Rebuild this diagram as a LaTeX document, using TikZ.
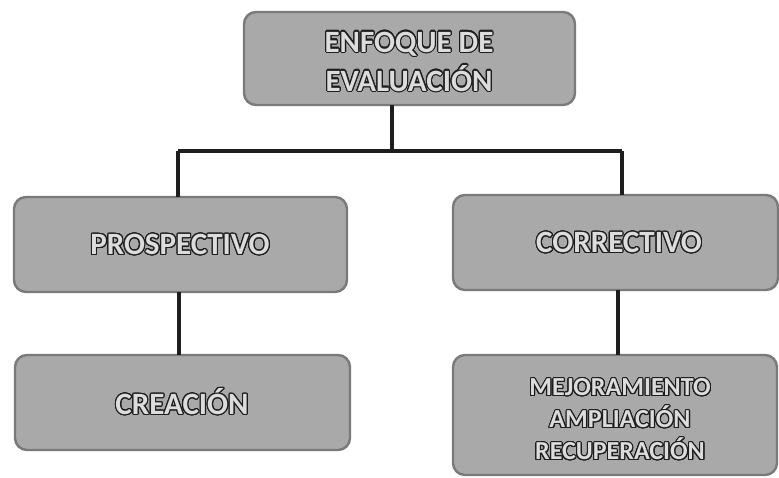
\documentclass[tikz,border=0pt]{standalone}
\usepackage{fontspec}
\setmainfont{Carlito}[BoldFont={Carlito Bold}]
\usepackage{contour}
\contourlength{1.1pt}
\contournumber{24}
\definecolor{boxfill}{HTML}{A9A9A9}
\definecolor{boxedge}{HTML}{7A7A7A}
\definecolor{wire}{HTML}{1E1E1E}
\definecolor{letterfill}{HTML}{DCDCDC}
% outlined letters: dark contour round a light fill
\newcommand{\hollow}[1]{\contour{wire}{\textcolor{letterfill}{#1}}}
\begin{document}
\begin{tikzpicture}[x=1pt,y=-1pt,
  panel/.style={draw=boxedge, line width=2.4pt, fill=boxfill, rounded corners=12pt},
  label/.style={font=\fontsize{31}{38}\selectfont\bfseries, align=center},
  small/.style={font=\fontsize{26}{32}\selectfont\bfseries, align=center},
  link/.style={draw=wire, line width=3.2pt}]
\useasboundingbox (0,0) rectangle (779,477);

% boxes
\draw[panel] (244,12) rectangle (575,105);
\draw[panel] (14,197) rectangle (347,292);
\draw[panel] (453,195) rectangle (778,290);
\draw[panel] (15,355) rectangle (350,450);
\draw[panel] (453,355) rectangle (777,475);

% anchors on the box edges
\coordinate (topB) at (392,105);
\coordinate (bus) at (392,151);
\coordinate (busL) at (178,151);
\coordinate (busR) at (622,151);
\coordinate (leftT) at (178,197);
\coordinate (rightT) at (622,195);
\coordinate (leftB) at (179,292);
\coordinate (creaT) at (179,355);
\coordinate (rightB) at (618,290);
\coordinate (mejT) at (618,355);

% connectors
\draw[link] (topB) -- (bus);
\draw[link] (busL) -- (busR);
\draw[link] (busL) -- (leftT);
\draw[link] (busR) -- (rightT);
\draw[link] (leftB) -- (creaT);
\draw[link, line width=4pt] (rightB) -- (mejT);

% texts
\node[label] (enf) at (409,62) {\hollow{ENFOQUE DE}\\[1pt]\hollow{EVALUACIÓN}};
\node[label] (pro) at (180,245) {\hollow{PROSPECTIVO}};
\node[label] (cor) at (619,243) {\hollow{CORRECTIVO}};
\node[label] (cre) at (182,402) {\hollow{CREACIÓN}};
\node[small] (mej) at (620,420) {\hollow{MEJORAMIENTO}\\\hollow{AMPLIACIÓN}\\\hollow{RECUPERACIÓN}};
\end{tikzpicture}
\end{document}
